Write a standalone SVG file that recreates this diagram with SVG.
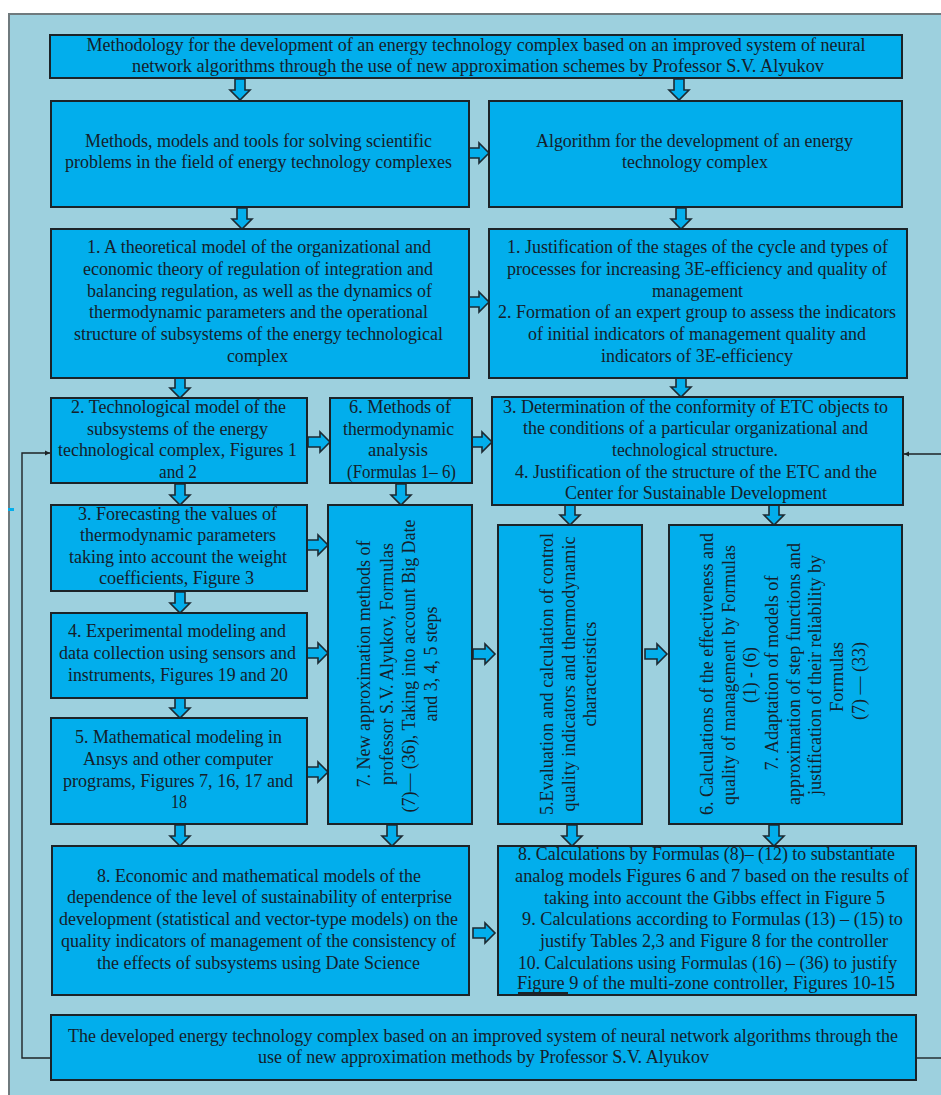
<svg xmlns="http://www.w3.org/2000/svg" xmlns:xlink="http://www.w3.org/1999/xlink" width="941" height="1095" viewBox="0 0 941 1095">
<style>
.box{fill:#02aeec;stroke:#1b2328;stroke-width:2}
.t{font-family:"Liberation Serif","Times New Roman",serif;font-size:18px;fill:#15202a;text-anchor:middle}
.arr{fill:#02aeec;stroke:#1b2a33;stroke-width:1.6;stroke-linejoin:miter}
.ln{fill:none;stroke:#1e2326;stroke-width:1.4}
</style>
<defs>
<path id="ad" d="M-5,-21 H5 V-10 H10 L0,0 L-10,-10 H-5 Z"/>
<path id="ar" d="M-22,-5 H-10 V-10 L0,0 L-10,10 V5 H-22 Z"/>
<marker id="mk" markerWidth="6" markerHeight="6" refX="5" refY="3" orient="auto" markerUnits="userSpaceOnUse"><path d="M0,0.5 L5,3 L0,5.5 Z" fill="#1e2326"/></marker>
</defs>
<rect x="0" y="0" width="941" height="1095" fill="#ffffff"/>
<rect x="9" y="14" width="940" height="1090" fill="#9dd0de" stroke="#6f7a7e" stroke-width="2"/>
<rect x="8" y="508" width="6" height="3" fill="#02aeec"/>

<g id="connectors">
<polyline class="ln" points="51,1058 22,1058 22,453 50,453" marker-end="url(#mk)"/>
<line class="ln" x1="916" y1="1058" x2="941" y2="1058"/>
<line class="ln" x1="941" y1="454" x2="904" y2="454" marker-end="url(#mk)"/>
<g class="arr">
<use xlink:href="#ad" transform="translate(240,100)"/>
<use xlink:href="#ad" transform="translate(679,100)"/>
<use xlink:href="#ad" transform="translate(242,229)"/>
<use xlink:href="#ad" transform="translate(681,229)"/>
<use xlink:href="#ad" transform="translate(180,398)"/>
<use xlink:href="#ad" transform="translate(681,397)"/>
<use xlink:href="#ad" transform="translate(180,505)"/>
<use xlink:href="#ad" transform="translate(401,505)"/>
<use xlink:href="#ad" transform="translate(570,525)"/>
<use xlink:href="#ad" transform="translate(774,525)"/>
<use xlink:href="#ad" transform="translate(180,613)"/>
<use xlink:href="#ad" transform="translate(180,718)"/>
<use xlink:href="#ad" transform="translate(180,846)"/>
<use xlink:href="#ad" transform="translate(392,846)"/>
<use xlink:href="#ad" transform="translate(572,846)"/>
<use xlink:href="#ad" transform="translate(774,846)"/>
<use xlink:href="#ar" transform="translate(489,153)"/>
<use xlink:href="#ar" transform="translate(489,302)"/>
<use xlink:href="#ar" transform="translate(330,442)"/>
<use xlink:href="#ar" transform="translate(492,442)"/>
<use xlink:href="#ar" transform="translate(328,545)"/>
<use xlink:href="#ar" transform="translate(328,653)"/>
<use xlink:href="#ar" transform="translate(328,772)"/>
<use xlink:href="#ar" transform="translate(495,654)"/>
<use xlink:href="#ar" transform="translate(667,654)"/>
<use xlink:href="#ar" transform="translate(495,933)"/>
</g>
</g>

<g id="n-top">
<rect class="box" x="50" y="35" width="852" height="43"/>
<text class="t" x="476" y="51" textLength="779" lengthAdjust="spacingAndGlyphs">Methodology for the development of an energy technology complex based on an improved system of neural</text>
<text class="t" x="478" y="72" textLength="692" lengthAdjust="spacingAndGlyphs">network algorithms through the use of new approximation schemes by Professor S.V. Alyukov</text>
</g>

<g id="n-methods">
<rect class="box" x="51" y="101" width="418" height="106"/>
<text class="t" x="258.5" y="147" textLength="347" lengthAdjust="spacingAndGlyphs">Methods, models and tools for solving scientific</text>
<text class="t" x="258.5" y="168" textLength="387" lengthAdjust="spacingAndGlyphs">problems in the field of energy technology complexes</text>
</g>

<g id="n-algorithm">
<rect class="box" x="489" y="101" width="413" height="106"/>
<text class="t" x="694.5" y="147" textLength="317" lengthAdjust="spacingAndGlyphs">Algorithm for the development of an energy</text>
<text class="t" x="695" y="168" textLength="146" lengthAdjust="spacingAndGlyphs">technology complex</text>
</g>

<g id="n-1-theory">
<rect class="box" x="51" y="229" width="418" height="149"/>
<text class="t" x="259" y="253" textLength="344" lengthAdjust="spacingAndGlyphs">1. A theoretical model of the organizational and</text>
<text class="t" x="258" y="275" textLength="350" lengthAdjust="spacingAndGlyphs">economic theory of regulation of integration and</text>
<text class="t" x="259.5" y="297" textLength="345" lengthAdjust="spacingAndGlyphs">balancing regulation, as well as the dynamics of</text>
<text class="t" x="258.5" y="318" textLength="339" lengthAdjust="spacingAndGlyphs">thermodynamic parameters and the operational</text>
<text class="t" x="258.5" y="340" textLength="369" lengthAdjust="spacingAndGlyphs">structure of subsystems of the energy technological</text>
<text class="t" x="257.5" y="362" textLength="61" lengthAdjust="spacingAndGlyphs">complex</text>
</g>

<g id="n-1-2-right">
<rect class="box" x="489" y="229" width="418" height="149"/>
<text class="t" x="697.5" y="253" textLength="381" lengthAdjust="spacingAndGlyphs">1. Justification of the stages of the cycle and types of</text>
<text class="t" x="697" y="275" textLength="380" lengthAdjust="spacingAndGlyphs">processes for increasing 3E-efficiency and quality of</text>
<text class="t" x="697.5" y="297" textLength="91" lengthAdjust="spacingAndGlyphs">management</text>
<text class="t" x="697" y="318" textLength="398" lengthAdjust="spacingAndGlyphs">2. Formation of an expert group to assess the indicators</text>
<text class="t" x="697" y="340" textLength="338" lengthAdjust="spacingAndGlyphs">of initial indicators of management quality and</text>
<text class="t" x="697" y="362" textLength="192" lengthAdjust="spacingAndGlyphs">indicators of 3E-efficiency</text>
</g>

<g id="n-2">
<rect class="box" x="51" y="398" width="256" height="85"/>
<text class="t" x="178.5" y="413" textLength="215" lengthAdjust="spacingAndGlyphs">2. Technological model of the</text>
<text class="t" x="177.5" y="435" textLength="181" lengthAdjust="spacingAndGlyphs">subsystems of the energy</text>
<text class="t" x="177.5" y="456" textLength="239" lengthAdjust="spacingAndGlyphs">technological complex, Figures 1</text>
<text class="t" x="178" y="478" textLength="38" lengthAdjust="spacingAndGlyphs">and 2</text>
</g>

<g id="n-6-methods">
<rect class="box" x="330" y="398" width="142" height="85"/>
<text class="t" x="400" y="413" textLength="102" lengthAdjust="spacingAndGlyphs">6. Methods of</text>
<text class="t" x="398.5" y="435" textLength="111" lengthAdjust="spacingAndGlyphs">thermodynamic</text>
<text class="t" x="398" y="456" textLength="60" lengthAdjust="spacingAndGlyphs">analysis</text>
<text class="t" x="401.5" y="478" textLength="109" lengthAdjust="spacingAndGlyphs">(Formulas 1– 6)</text>
</g>

<g id="n-3-4-right">
<rect class="box" x="492" y="397" width="411" height="108"/>
<text class="t" x="695.5" y="413" textLength="385" lengthAdjust="spacingAndGlyphs">3. Determination of the conformity of ETC objects to</text>
<text class="t" x="695.5" y="434" textLength="345" lengthAdjust="spacingAndGlyphs">the conditions of a particular organizational and</text>
<text class="t" x="695" y="456" textLength="166" lengthAdjust="spacingAndGlyphs">technological structure.</text>
<text class="t" x="696" y="478" textLength="362" lengthAdjust="spacingAndGlyphs">4. Justification of the structure of the ETC and the</text>
<text class="t" x="696" y="499" textLength="262" lengthAdjust="spacingAndGlyphs">Center for Sustainable Development</text>
</g>

<g id="n-3">
<rect class="box" x="51" y="505" width="256" height="86"/>
<text class="t" x="177.5" y="520" textLength="199" lengthAdjust="spacingAndGlyphs">3. Forecasting the values of</text>
<text class="t" x="178" y="541" textLength="196" lengthAdjust="spacingAndGlyphs">thermodynamic parameters</text>
<text class="t" x="178" y="563" textLength="218" lengthAdjust="spacingAndGlyphs">taking into account the weight</text>
<text class="t" x="176.5" y="584" textLength="155" lengthAdjust="spacingAndGlyphs">coefficients, Figure 3</text>
</g>

<g id="n-7-new">
<rect class="box" x="328" y="505" width="144" height="319"/>
<text class="t" transform="translate(370,664) rotate(-90)" textLength="247" lengthAdjust="spacingAndGlyphs">7. New approximation methods of</text>
<text class="t" transform="translate(393,664) rotate(-90)" textLength="242" lengthAdjust="spacingAndGlyphs">professor S.V. Alyukov, Formulas</text>
<text class="t" transform="translate(415,666) rotate(-90)" textLength="293" lengthAdjust="spacingAndGlyphs">(7)— (36), Taking into account Big Date</text>
<text class="t" transform="translate(437,664) rotate(-90)" textLength="115" lengthAdjust="spacingAndGlyphs">and 3, 4, 5 steps</text>
</g>

<g id="n-5-eval">
<rect class="box" x="498" y="525" width="144" height="299"/>
<text class="t" transform="translate(553,674) rotate(-90)" textLength="282" lengthAdjust="spacingAndGlyphs">5.Evaluation and calculation of control</text>
<text class="t" transform="translate(575,674) rotate(-90)" textLength="275" lengthAdjust="spacingAndGlyphs">quality indicators and thermodynamic</text>
<text class="t" transform="translate(596,674) rotate(-90)" textLength="105" lengthAdjust="spacingAndGlyphs">characteristics</text>
</g>

<g id="n-6-7-calc">
<rect class="box" x="669" y="525" width="233" height="299"/>
<text class="t" transform="translate(713,674) rotate(-90)" textLength="282" lengthAdjust="spacingAndGlyphs">6. Calculations of the effectiveness and</text>
<text class="t" transform="translate(735,675) rotate(-90)" textLength="260" lengthAdjust="spacingAndGlyphs">quality of management by Formulas</text>
<text class="t" transform="translate(756,675) rotate(-90)" textLength="56" lengthAdjust="spacingAndGlyphs">(1) - (6)</text>
<text class="t" transform="translate(778,673) rotate(-90)" textLength="195" lengthAdjust="spacingAndGlyphs">7. Adaptation of models of</text>
<text class="t" transform="translate(800,674) rotate(-90)" textLength="262" lengthAdjust="spacingAndGlyphs">approximation of step functions and</text>
<text class="t" transform="translate(821,675) rotate(-90)" textLength="240" lengthAdjust="spacingAndGlyphs">justification of their reliability by</text>
<text class="t" transform="translate(843,677) rotate(-90)" textLength="70" lengthAdjust="spacingAndGlyphs">Formulas</text>
<text class="t" transform="translate(865,681) rotate(-90)" textLength="78" lengthAdjust="spacingAndGlyphs">(7) — (33)</text>
</g>

<g id="n-4">
<rect class="box" x="51" y="613" width="256" height="85"/>
<text class="t" x="177" y="637" textLength="218" lengthAdjust="spacingAndGlyphs">4. Experimental modeling and</text>
<text class="t" x="177.5" y="659" textLength="237" lengthAdjust="spacingAndGlyphs">data collection using sensors and</text>
<text class="t" x="178" y="681" textLength="220" lengthAdjust="spacingAndGlyphs">instruments, Figures 19 and 20</text>
</g>

<g id="n-5">
<rect class="box" x="51" y="718" width="256" height="106"/>
<text class="t" x="178.5" y="743" textLength="207" lengthAdjust="spacingAndGlyphs">5. Mathematical modeling in</text>
<text class="t" x="178" y="765" textLength="190" lengthAdjust="spacingAndGlyphs">Ansys and other computer</text>
<text class="t" x="178" y="787" textLength="230" lengthAdjust="spacingAndGlyphs">programs, Figures 7, 16, 17 and</text>
<text class="t" x="179" y="808" textLength="16" lengthAdjust="spacingAndGlyphs">18</text>
</g>

<g id="n-8">
<rect class="box" x="52" y="846" width="417" height="149"/>
<text class="t" x="259" y="882" textLength="324" lengthAdjust="spacingAndGlyphs">8. Economic and mathematical models of the</text>
<text class="t" x="259.5" y="903" textLength="385" lengthAdjust="spacingAndGlyphs">dependence of the level of sustainability of enterprise</text>
<text class="t" x="258.5" y="925" textLength="399" lengthAdjust="spacingAndGlyphs">development (statistical and vector-type models) on the</text>
<text class="t" x="258.5" y="947" textLength="395" lengthAdjust="spacingAndGlyphs">quality indicators of management of the consistency of</text>
<text class="t" x="258.5" y="969" textLength="323" lengthAdjust="spacingAndGlyphs">the effects of subsystems using Date Science</text>
</g>

<g id="n-8-10-calc">
<rect class="box" x="498" y="846" width="418" height="149"/>
<text class="t" x="706.5" y="860" textLength="377" lengthAdjust="spacingAndGlyphs">8. Calculations by Formulas (8)– (12) to substantiate</text>
<text class="t" x="712" y="882" textLength="394" lengthAdjust="spacingAndGlyphs">analog models  Figures  6 and 7 based on the results of</text>
<text class="t" x="714.5" y="904" textLength="341" lengthAdjust="spacingAndGlyphs">taking into account the Gibbs effect in Figure 5</text>
<text class="t" x="712.5" y="925" textLength="381" lengthAdjust="spacingAndGlyphs">9. Calculations according to Formulas  (13) – (15) to</text>
<text class="t" x="714" y="947" textLength="348" lengthAdjust="spacingAndGlyphs">justify Tables 2,3 and Figure 8 for the controller</text>
<text class="t" x="707.5" y="969" textLength="379" lengthAdjust="spacingAndGlyphs">10. Calculations using Formulas (16) – (36) to justify</text>
<text class="t" x="706" y="989" textLength="378" lengthAdjust="spacingAndGlyphs">Figure  9 of the multi-zone controller, Figures 10-15</text>
<line x1="518" y1="993" x2="568" y2="993" stroke="#1b2328" stroke-width="2"/>
</g>

<g id="n-bottom">
<rect class="box" x="51" y="1015" width="865" height="65"/>
<text class="t" x="483" y="1042" textLength="830" lengthAdjust="spacingAndGlyphs">The developed energy technology complex based on an improved system of neural network algorithms through the</text>
<text class="t" x="483.5" y="1063" textLength="451" lengthAdjust="spacingAndGlyphs">use of new approximation methods by Professor S.V. Alyukov</text>
</g>
</svg>
